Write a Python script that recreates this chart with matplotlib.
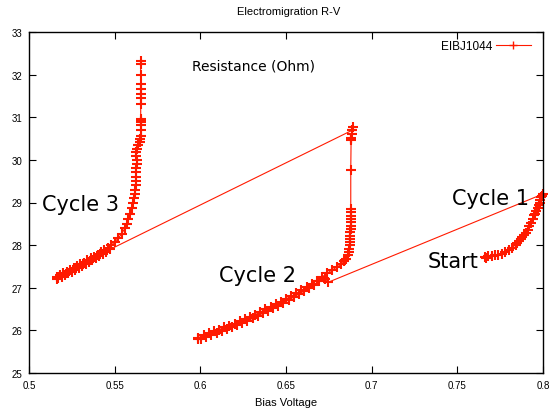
import matplotlib
matplotlib.use("Agg")
import matplotlib.pyplot as plt

# cycle 1: start at 0.766 V, ramp to 0.8 V
cycle1_v = [0.766, 0.767, 0.768, 0.770, 0.772, 0.774, 0.776, 0.778, 0.780, 0.782, 0.784,
            0.785, 0.786, 0.787, 0.788, 0.789, 0.790, 0.791, 0.792, 0.793, 0.794, 0.795,
            0.7955, 0.796, 0.797, 0.7975, 0.798, 0.7985, 0.799, 0.7995, 0.800]
cycle1_r = [27.72, 27.70, 27.74, 27.74, 27.76, 27.78, 27.80, 27.84, 27.88, 27.94, 28.01,
            28.05, 28.09, 28.14, 28.18, 28.24, 28.29, 28.36, 28.44, 28.52, 28.62, 28.70,
            28.74, 28.80, 28.88, 28.94, 29.00, 29.06, 29.12, 29.16, 29.20]

# cycle 2: ramp down then up, jump at ~0.688 V
cycle2_v = [0.6747, 0.6725, 0.6695, 0.6665, 0.6635, 0.6605, 0.6575, 0.6545, 0.6515, 0.6485,
            0.6455, 0.6425, 0.6395, 0.6365, 0.6335, 0.6305, 0.6275, 0.6245, 0.6215, 0.6185,
            0.6155, 0.6125, 0.6095, 0.6065, 0.6035, 0.6005, 0.5988,
            0.5988, 0.602, 0.605, 0.608, 0.611, 0.614, 0.617, 0.620, 0.623, 0.626,
            0.629, 0.632, 0.635, 0.638, 0.641, 0.644, 0.647, 0.650, 0.653, 0.656,
            0.659, 0.662, 0.665, 0.668, 0.671, 0.674, 0.677, 0.680, 0.682, 0.684,
            0.685, 0.686, 0.6865, 0.687, 0.6872, 0.6874, 0.6875, 0.6876, 0.6876, 0.6877,
            0.6877, 0.6877, 0.6878, 0.6878, 0.6878, 0.6878, 0.6878, 0.6880, 0.6880, 0.6882,
            0.6885, 0.6887, 0.6890, 0.6884]
cycle2_r = [27.13, 27.20, 27.15, 27.07, 26.99, 26.92, 26.85, 26.78, 26.71, 26.65,
            26.58, 26.52, 26.46, 26.40, 26.34, 26.28, 26.23, 26.18, 26.13, 26.08,
            26.03, 25.99, 25.94, 25.90, 25.85, 25.80, 25.79,
            25.83, 25.88, 25.93, 25.98, 26.02, 26.07, 26.11, 26.16, 26.21, 26.26,
            26.31, 26.37, 26.43, 26.49, 26.55, 26.61, 26.67, 26.74, 26.80, 26.87,
            26.94, 27.01, 27.09, 27.17, 27.25, 27.34, 27.42, 27.49, 27.55, 27.62,
            27.68, 27.76, 27.84, 27.92, 28.00, 28.07, 28.15, 28.22, 28.30, 28.38,
            28.46, 28.54, 28.62, 28.69, 28.77, 28.85, 29.77, 30.46, 30.49, 30.52,
            30.61, 30.69, 30.77, 30.69]

# cycle 3: ramp down then up, jump at ~0.565 V
cycle3_v = [0.5473, 0.545, 0.543, 0.541, 0.539, 0.537, 0.535, 0.533, 0.531, 0.529,
            0.527, 0.525, 0.523, 0.521, 0.519, 0.517, 0.5162,
            0.5162, 0.518, 0.520, 0.522, 0.524, 0.526, 0.528, 0.530, 0.532, 0.534,
            0.536, 0.538, 0.540, 0.542, 0.544, 0.546, 0.548, 0.550, 0.552, 0.554,
            0.556, 0.557, 0.558, 0.559, 0.560, 0.5609, 0.5615, 0.5619, 0.5620, 0.5622,
            0.5624, 0.5625, 0.5625, 0.5627, 0.5628, 0.5629, 0.5627, 0.5625, 0.5632, 0.5638,
            0.5645, 0.5650, 0.5651, 0.5652, 0.5652, 0.5652, 0.5652, 0.5652, 0.5652, 0.5652,
            0.5652, 0.5652, 0.5652, 0.5652, 0.5652, 0.5652]
cycle3_r = [27.90, 27.85, 27.80, 27.75, 27.70, 27.65, 27.61, 27.56, 27.51, 27.47,
            27.42, 27.38, 27.34, 27.30, 27.26, 27.22, 27.21,
            27.25, 27.30, 27.34, 27.38, 27.42, 27.46, 27.50, 27.55, 27.59, 27.64,
            27.69, 27.73, 27.78, 27.83, 27.88, 27.94, 28.00, 28.07, 28.16, 28.26,
            28.40, 28.50, 28.62, 28.74, 28.86, 29.00, 29.10, 29.20, 29.30, 29.40,
            29.50, 29.60, 29.71, 29.80, 29.90, 30.00, 30.10, 30.18, 30.26, 30.34,
            30.42, 30.49, 30.57, 30.71, 30.81, 30.88, 30.92, 30.95, 31.32, 31.44,
            31.55, 31.67, 31.78, 31.98, 32.25, 32.33]

x_ticks = [0.5, 0.55, 0.6, 0.65, 0.7, 0.75, 0.8]
x_labels = ["0.5", "0.55", "0.6", "0.65", "0.7", "0.75", "0.8"]
y_ticks = [25, 26, 27, 28, 29, 30, 31, 32, 33]

volts = cycle1_v + cycle2_v + cycle3_v
res = cycle1_r + cycle2_r + cycle3_r

red = "#ff1a00"
small = ["Liberation Sans", "DejaVu Sans"]

fig = plt.figure(figsize=(5.53, 4.10), dpi=100)
ax = fig.add_axes([29 / 553, 36 / 410, 514 / 553, 341 / 410])
ax.plot(volts, res, color=red, lw=0.8, marker="+", ms=6.5, mew=1.5,
        label="EIBJ1044", clip_on=False)

ax.set_xlim(0.5, 0.8)
ax.set_ylim(25, 33)
ax.set_xticks(x_ticks)
ax.set_xticklabels(x_labels)
ax.set_yticks(y_ticks)
ax.tick_params(direction="in", length=5, width=0.8, top=True, right=True,
               labelsize=7, pad=5)
for lab in ax.get_xticklabels() + ax.get_yticklabels():
    lab.set_family(small)
for s in ax.spines.values():
    s.set_linewidth(1.0)

ax.set_xlabel("Bias Voltage", fontsize=8, family=small, labelpad=5)
fig.text(0.522, 1 - 12 / 410, "Electromigration R-V", fontsize=8,
         family=small, ha="center", va="center")

ax.text(0.6308, 32.21, "Resistance (Ohm)", fontsize=10, ha="center", va="center")
ax.text(0.7469, 29.11, "Cycle 1", fontsize=15, ha="left", va="center")
ax.text(0.6109, 27.30, "Cycle 2", fontsize=15, ha="left", va="center")
ax.text(0.5076, 28.97, "Cycle 3", fontsize=15, ha="left", va="center")
ax.text(0.7329, 27.63, "Start", fontsize=15, ha="left", va="center")

leg = ax.legend(loc="upper right", bbox_to_anchor=(1.0, 1.012), frameon=False,
                markerfirst=False, prop={"family": small, "size": 8.5},
                handlelength=3.0, borderaxespad=0.6, handletextpad=0.3)
for h in leg.legend_handles:
    h.set_markersize(6)
    h.set_markeredgewidth(1.0)

fig.savefig("out.png", dpi=100)
